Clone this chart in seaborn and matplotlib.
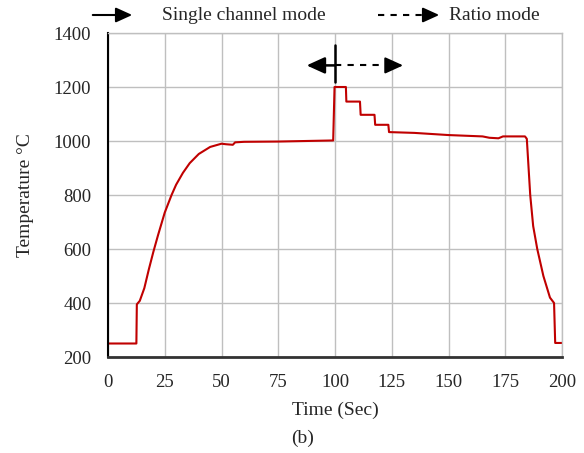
import matplotlib
matplotlib.use('Agg')
import matplotlib.pyplot as plt
from matplotlib.patches import FancyArrowPatch
from matplotlib.lines import Line2D
import seaborn as sns
import pandas as pd

# values
time_sec = [0, 12.5, 12.7, 14, 16, 18, 20, 22, 25, 28, 30, 33, 36, 40, 45, 50,
            52, 55, 56, 60, 75, 99.2, 99.8, 104.8, 105, 111, 111.3, 117.4, 117.7,
            123.5, 123.8, 135, 150, 165, 168, 172, 174, 183.7, 184.5, 186, 187.3,
            189.1, 191.8, 194.7, 196.5, 197, 200]
temperature = [250, 250, 395, 408, 455, 525, 590, 650, 735, 800, 838, 882, 918,
               952, 978, 990, 988, 986, 995, 997, 998, 1002, 1200, 1200, 1146,
               1146, 1097, 1097, 1060, 1060, 1033, 1030, 1022, 1017, 1012, 1010,
               1017, 1017, 1008, 800, 685, 600, 500, 420, 400, 252, 252]

legend_labels = ['Single channel mode', 'Ratio mode']
x_ticks = [0, 25, 50, 75, 100, 125, 150, 175, 200]
y_ticks = [200, 400, 600, 800, 1000, 1200, 1400]

sns.set_style('whitegrid')
plt.rcParams['font.family'] = ['Liberation Serif', 'DejaVu Serif']

df = pd.DataFrame({'time': time_sec, 'temp': temperature})

W, H = 584, 453
fig = plt.figure(figsize=(W / 100, H / 100), dpi=100)
ax = fig.add_axes([108 / W, 1 - 357 / H, (562 - 108) / W, (357 - 33) / H])
sns.lineplot(data=df, x='time', y='temp', ax=ax, color='#c00000', linewidth=1.5,
             sort=False, estimator=None)

ax.set_xlim(0, 200)
ax.set_ylim(200, 1400)
ax.set_xticks(x_ticks)
ax.set_yticks(y_ticks)
ax.grid(True, color='#bfbfbf', linewidth=1.0)
ax.tick_params(axis='both', length=0, pad=12, labelsize=13.5)
for side in ['top', 'right']:
    ax.spines[side].set_color('#bfbfbf')
    ax.spines[side].set_linewidth(1.0)
ax.spines['left'].set_color('black')
ax.spines['left'].set_linewidth(1.5)
ax.spines['bottom'].set_color('#333333')
ax.spines['bottom'].set_linewidth(2.0)
ax.set_xlabel('Time (Sec)', fontsize=14, labelpad=8)
ax.set_ylabel('Temperature \u00b0C', fontsize=14, labelpad=14)

head = '-|>,head_length=0.55,head_width=0.25'

# mode markers inside the plot
ax.plot([100, 100], [1355, 1220], color='black', linewidth=1.8)
ax.annotate('', xy=(87.5, 1280), xytext=(100, 1280),
            arrowprops=dict(arrowstyle=head, color='black', lw=1.8,
                            mutation_scale=20, shrinkA=0, shrinkB=0))
ax.plot([100, 125], [1280, 1280], color='black', lw=1.5, linestyle=(0, (3, 3)))
ax.annotate('', xy=(130, 1280), xytext=(124, 1280),
            arrowprops=dict(arrowstyle=head, color='black', lw=1.5,
                            mutation_scale=20, shrinkA=0, shrinkB=0))

# legend row above the axes
ly = 1 - 15 / H
fig.patches.append(FancyArrowPatch(
    (90 / W, ly), (135 / W, ly), transform=fig.transFigure,
    arrowstyle=head, mutation_scale=18, color='black', lw=1.5))
fig.text(162 / W, ly, legend_labels[0], va='center', ha='left', fontsize=14)
fig.lines.append(Line2D([378 / W, 430 / W], [ly, ly], transform=fig.transFigure,
                        color='black', lw=1.5, linestyle=(0, (3, 3))))
fig.patches.append(FancyArrowPatch(
    (428 / W, ly), (442 / W, ly), transform=fig.transFigure,
    arrowstyle=head, mutation_scale=18, color='black', lw=1.5))
fig.text(449 / W, ly, legend_labels[1], va='center', ha='left', fontsize=14)

fig.text(303 / W, 1 - 438 / H, '(b)', ha='center', va='center', fontsize=14)

fig.savefig('out.png', dpi=100)
